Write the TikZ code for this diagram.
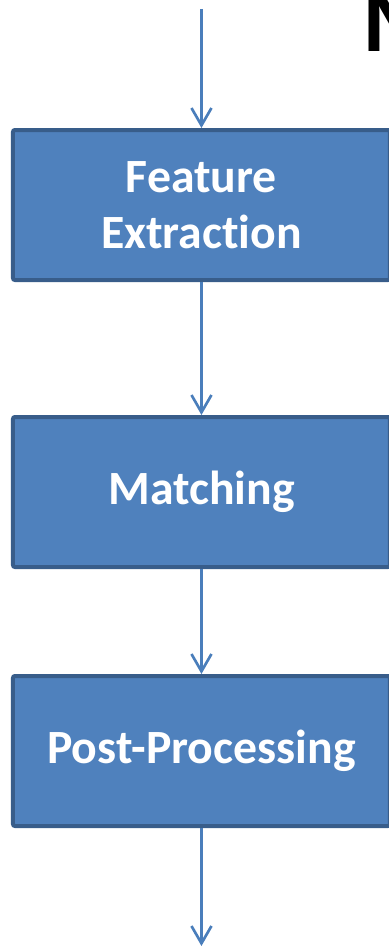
\documentclass[tikz,border=0pt]{standalone}
\usepackage{fontspec}
\setmainfont{Carlito}[Ligatures=NoCommon]
\usepackage{xcolor}
\usepackage{tikz}
\usetikzlibrary{arrows.meta}
\usetikzlibrary{positioning}
\definecolor{boxblue}{HTML}{4F81BD}
\definecolor{boxedge}{HTML}{385D8A}
\definecolor{flowblue}{HTML}{4A7EBB}
\tikzset{flow-line/.style={line width=2pt, draw=flowblue}}
\tikzset{>={Straight Barb[length=13pt, width=15pt]}}
\tikzset{flow-node/.style={draw=boxedge, fill=boxblue, line width=3pt, rounded corners=1.5pt, minimum width=282.75pt, minimum height=112.5pt, text=white, align=center, font=\fontsize{35.8}{42}\selectfont\bfseries}}

\begin{document}
\begin{tikzpicture}[]
            \useasboundingbox (-151.1pt,153.75pt) rectangle (140.6pt,-555.75pt);

            \node[flow-node] (extract) {Feature\\Extraction};
            \node[flow-node, below=99.75pt of extract] (match) {Matching};
            \node[flow-node, below=78.75pt of match] (postproc) {Post-Processing};

            \coordinate[above=89.25pt of extract] (in);
            \coordinate[below=88.5pt of postproc] (out);

            % heading, mostly off the page
            \node[anchor=base west, inner sep=0, font=\fontsize{72}{72}\selectfont\bfseries] (title) at (120.5pt,114.75pt) {M};

            \draw[->, flow-line] (in) -- (extract);
            \draw[->, flow-line] (extract) -- (match);
            \draw[->, flow-line] (match) -- (postproc);
            \draw[->, flow-line] (postproc) -- (out);
        \end{tikzpicture}
\end{document}
